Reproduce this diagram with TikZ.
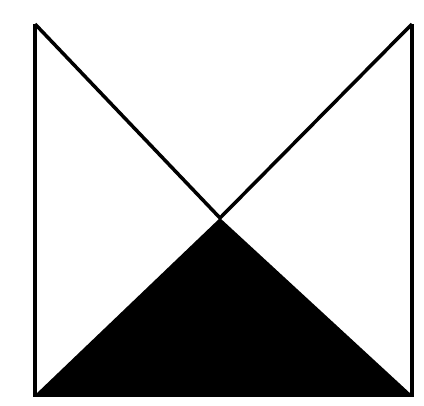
\documentclass[tikz,border=0pt]{standalone}
\begin{document}
\begin{tikzpicture}[x=1pt,y=-1pt,
  edge/.style={line width=4.5pt,line join=miter,line cap=butt},
  solid fill/.style={fill=black,draw=none}]
\useasboundingbox (0,0) rectangle (424,406);
\fill[white] (0,0) rectangle (424,406);
% black lower triangle
\coordinate (bl) at (35,395);
\coordinate (br) at (412,395);
\coordinate (apex) at (220,218);
\coordinate (tl) at (35,24);
\coordinate (tr) at (412,24);
\fill[solid fill] (bl) -- (apex) -- (br) -- cycle;
% outline
\draw[edge] (tl) -- (bl) -- (br) -- (tr);
\draw[line width=3.5pt] (tl) -- (apex) -- (tr);
\end{tikzpicture}
\end{document}
